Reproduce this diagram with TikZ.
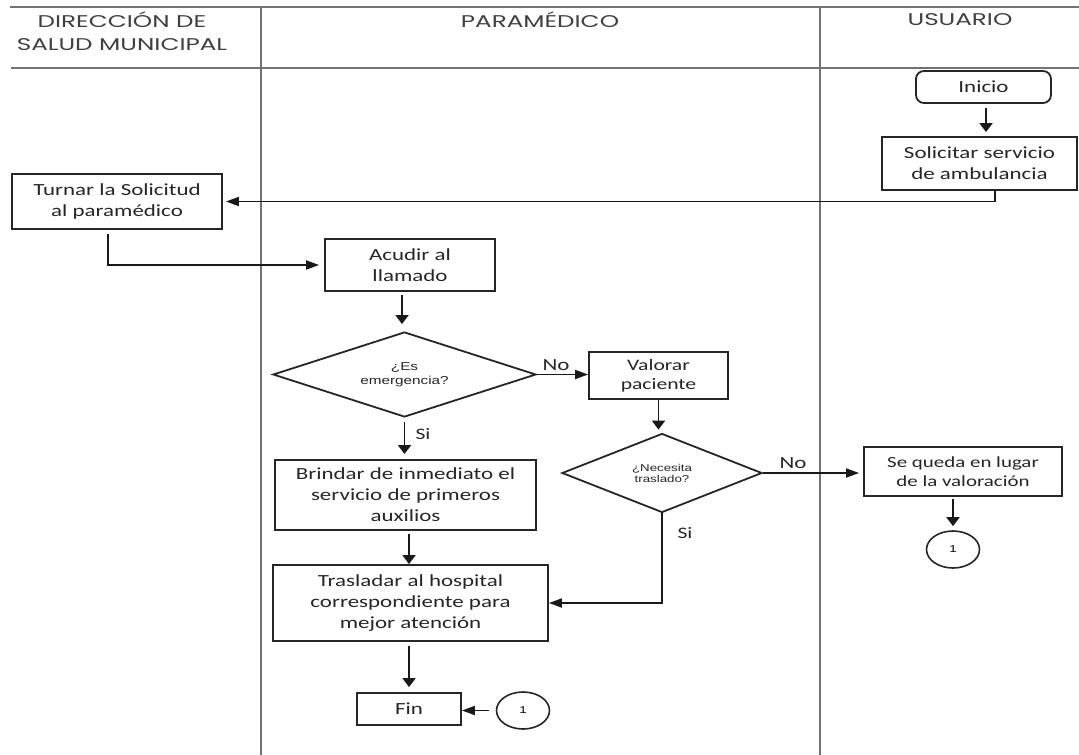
\documentclass[tikz,border=0pt]{standalone}
\usepackage{fontspec}
\setmainfont{Carlito}[FakeStretch=1.35]
\newfontfamily\headfont{Poppins}[FakeStretch=1.45]
\newfontfamily\smallfont{Liberation Sans}[FakeStretch=1.33]
\usetikzlibrary{shapes.geometric,arrows.meta}
\begin{document}
\begin{tikzpicture}[x=1pt,y=-1pt,
  lane/.style={draw=black!55,line width=1.3pt},
  hdr/.style={align=center,text=black!75,font=\headfont\fontsize{17pt}{23pt}\selectfont,inner sep=0pt},
  box/.style={draw=black!85,line width=1.8pt,align=center,inner sep=0pt,text=black!85,font=\fontsize{17pt}{21pt}\selectfont},
  dia/.style={draw=black!85,line width=1.8pt,shape=diamond,align=center,inner sep=0pt,text=black!85},
  conn/.style={draw=black!90,line width=1.8pt},
  harrow/.style={-{Triangle[length=13pt,width=9pt]}},
  varrow/.style={-{Triangle[length=9pt,width=13pt]}},
  lbl/.style={inner sep=0pt,text=black!85,font=\fontsize{16pt}{19pt}\selectfont},
  conector/.style={draw=black!85,line width=1.6pt,shape=ellipse,inner sep=0pt,minimum width=53pt,minimum height=37pt,font=\smallfont\fontsize{10pt}{12pt}\selectfont}
]
\fill[white] (0,0) rectangle (1079,755);
\useasboundingbox (0,0) rectangle (1079,755);

% lanes
\coordinate (t0) at (10,7);
\coordinate (t1) at (1079,7);
\coordinate (m0) at (11,68);
\coordinate (m1) at (1079,68);
\coordinate (d1a) at (261,7);
\coordinate (d1b) at (261,755);
\coordinate (d2a) at (820,7);
\coordinate (d2b) at (820,755);
\draw[lane] (t0) -- (t1);
\draw[lane] (m0) -- (m1);
\draw[lane] (d1a) -- (d1b);
\draw[lane] (d2a) -- (d2b);

\node[hdr] (h1) at (122,31.5) {DIRECCIÓN DE\\SALUD MUNICIPAL};
\node[hdr] (h2) at (540,20) {PARAMÉDICO};
\node[hdr] (h3) at (960,20) {USUARIO};

% nodes
\node[box,rounded corners=8pt,minimum width=135pt,minimum height=32pt] (inicio) at (983.5,87) {Inicio};
\node[box,minimum width=195pt,minimum height=53pt] (solicitar) at (979.5,163.5) {Solicitar servicio\\de ambulancia};
\node[box,minimum width=210pt,minimum height=55pt] (turnar) at (117,201.5) {Turnar la Solicitud\\al paramédico};
\node[box,minimum width=170pt,minimum height=52pt] (acudir) at (410,265) {Acudir al\\llamado};
\node[dia,shape aspect=3.1,minimum width=263pt,minimum height=85pt,font=\smallfont\fontsize{11.5pt}{14pt}\selectfont] (emerg) at (404.5,374.5) {¿Es\\emergencia?};
\node[box,minimum width=139pt,minimum height=47pt,font=\fontsize{16pt}{19pt}\selectfont] (valorar) at (658.5,375.5) {Valorar\\paciente};
\node[dia,shape aspect=2.5,minimum width=200pt,minimum height=79pt,font=\smallfont\fontsize{10pt}{11pt}\selectfont] (necesita) at (662,473) {¿Necesita\\traslado?};
\node[box,minimum width=198pt,minimum height=49pt,font=\fontsize{15.5pt}{19pt}\selectfont] (sequeda) at (963,471.5) {Se queda en lugar\\de la valoración};
\node[conector] (c1) at (953,549.5) {1};
\node[box,minimum width=261pt,minimum height=70pt] (brindar) at (405.5,495) {Brindar de inmediato el\\servicio de primeros\\auxilios};
\node[box,minimum width=275pt,minimum height=76pt] (trasladar) at (410.5,603) {Trasladar al hospital\\correspondiente para\\mejor atención};
\node[box,minimum width=104pt,minimum height=32pt] (fin) at (409,709) {Fin};
\node[conector] (c2) at (523,710.5) {1};

% labels
\node[lbl,font=\fontsize{17pt}{19pt}\selectfont] (lno1) at (556,365) {No};
\node[lbl] (lsi1) at (423,434) {Si};
\node[lbl,font=\fontsize{17pt}{19pt}\selectfont] (lno2) at (793,463) {No};
\node[lbl] (lsi2) at (685,533) {Si};

% connectors
\draw[conn,varrow,shorten <=4pt,shorten >=4pt] ([xshift=2.5pt]inicio.south) -- ([xshift=2.5pt]inicio.south |- solicitar.north);
\draw[conn,harrow,shorten >=3pt] ([xshift=15.5pt]solicitar.south) |- (turnar.east);
\draw[conn,harrow,shorten <=4pt,shorten >=5pt] ([xshift=-9pt]turnar.south) |- (acudir.west);
\draw[conn,varrow,shorten <=3pt,shorten >=7pt] ([xshift=-8pt]acudir.south) -- ([xshift=-2.5pt]emerg.north);
\draw[conn,varrow,shorten <=4pt,shorten >=5pt] (emerg.south) -- (emerg.south |- brindar.north);
\draw[conn,harrow] (emerg.east) -- (emerg.east -| valorar.west);
\draw[conn,varrow,shorten >=3pt] (valorar.south) -- (valorar.south |- necesita.north);
\draw[conn,harrow,shorten >=4pt] (necesita.east) -- (necesita.east -| sequeda.west);
\draw[conn,varrow,shorten <=2pt,shorten >=4pt] (c1.north |- sequeda.south) -- (c1.north);
\draw[conn,harrow] (necesita.south) |- (trasladar.east);
\draw[conn,varrow,shorten <=3pt] ([xshift=3.5pt]brindar.south) -- ([xshift=3.5pt]brindar.south |- trasladar.north);
\draw[conn,varrow,shorten <=4pt,shorten >=5pt] (fin.north |- trasladar.south) -- (fin.north);
\draw[conn,harrow,shorten <=7pt] (c2.west) -- (c2.west -| fin.east);
\end{tikzpicture}
\end{document}
